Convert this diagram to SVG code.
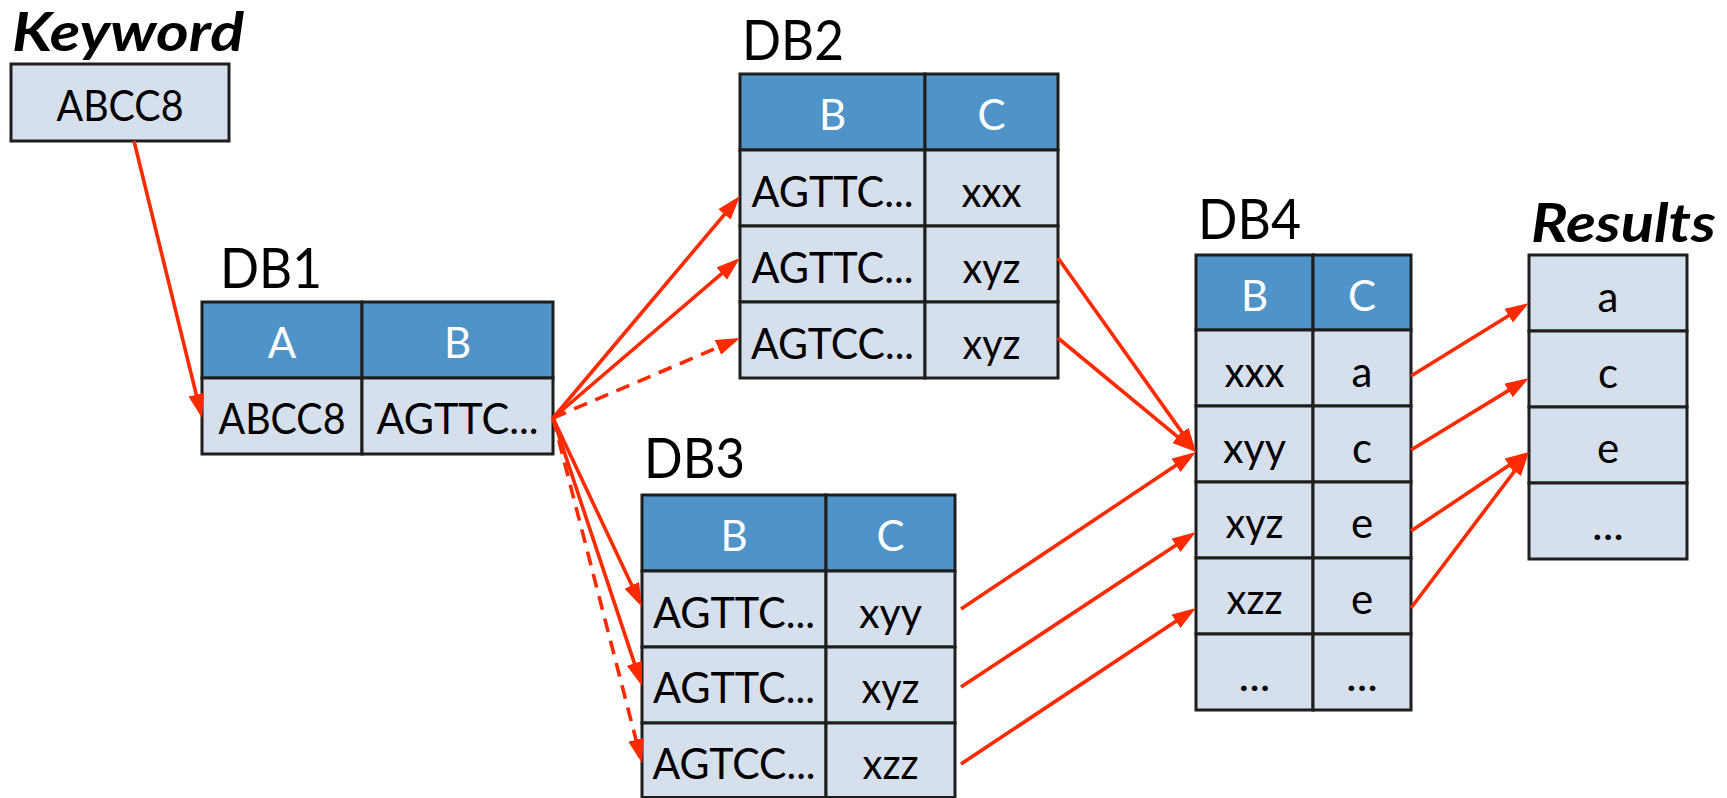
<svg xmlns="http://www.w3.org/2000/svg" width="1727" height="798" viewBox="0 0 1727 798">
  <style>
    .cell { fill: #D6DFEC; stroke: #1E1E1E; stroke-width: 3; }
    .head { fill: #4F94C9; stroke: #1E1E1E; stroke-width: 3; }
    text { font-family: Lato, "Open Sans", "Liberation Sans", sans-serif; }
    .t { font-size: 42px; text-anchor: middle; fill: #000; }
    .h { font-size: 42px; text-anchor: middle; fill: #FFFFFF; }
    .lbl { font-size: 56px; fill: #000; }
    .title { font-size: 53px; font-weight: bold; font-style: italic; fill: #000; }
    .conn { stroke: #FF2A00; stroke-width: 3.6; fill: none; marker-end: url(#ah); }
    .dash { stroke-dasharray: 14 9; }
  </style>
  <defs>
    <marker id="ah" markerUnits="userSpaceOnUse" markerWidth="26" markerHeight="18" refX="18" refY="8" orient="auto">
      <path d="M0,0 L24,8 L0,16 z" fill="#FF2A00"/>
    </marker>
  </defs>

  <rect width="1727" height="798" fill="#FFFFFF"/>

  <!-- Keyword input -->
  <g id="keyword">
    <text class="title" x="12" y="51" textLength="232" lengthAdjust="spacingAndGlyphs">Keyword</text>
    <rect class="cell" x="11" y="64" width="218" height="77"/>
    <text class="t" x="120" y="121" textLength="127" lengthAdjust="spacingAndGlyphs">ABCC8</text>
  </g>

  <!-- DB1 -->
  <g id="db1">
    <text class="lbl" x="220" y="288" textLength="102" lengthAdjust="spacingAndGlyphs">DB1</text>
    <rect class="head" x="202" y="302" width="160" height="76"/>
    <rect class="head" x="362" y="302" width="191" height="76"/>
    <rect class="cell" x="202" y="378" width="160" height="76"/>
    <rect class="cell" x="362" y="378" width="191" height="76"/>
    <text class="h" x="282" y="358">A</text>
    <text class="h" x="457.5" y="358">B</text>
    <text class="t" x="282" y="434" textLength="127" lengthAdjust="spacingAndGlyphs">ABCC8</text>
    <text class="t" x="457.5" y="434" textLength="162" lengthAdjust="spacingAndGlyphs">AGTTC...</text>
  </g>

  <!-- DB2 -->
  <g id="db2">
    <text class="lbl" x="742" y="60" textLength="102" lengthAdjust="spacingAndGlyphs">DB2</text>
    <rect class="head" x="740" y="74" width="185" height="76"/>
    <rect class="head" x="925" y="74" width="133" height="76"/>
    <rect class="cell" x="740" y="150" width="185" height="76"/>
    <rect class="cell" x="925" y="150" width="133" height="76"/>
    <rect class="cell" x="740" y="226" width="185" height="76"/>
    <rect class="cell" x="925" y="226" width="133" height="76"/>
    <rect class="cell" x="740" y="302" width="185" height="76"/>
    <rect class="cell" x="925" y="302" width="133" height="76"/>
    <text class="h" x="832.5" y="130">B</text>
    <text class="h" x="991.5" y="130">C</text>
    <text class="t" x="832.5" y="207" textLength="162" lengthAdjust="spacingAndGlyphs">AGTTC...</text>
    <text class="t" x="991.5" y="207" textLength="60" lengthAdjust="spacingAndGlyphs">xxx</text>
    <text class="t" x="832.5" y="283" textLength="162" lengthAdjust="spacingAndGlyphs">AGTTC...</text>
    <text class="t" x="991.5" y="283" textLength="58" lengthAdjust="spacingAndGlyphs">xyz</text>
    <text class="t" x="832.5" y="359" textLength="163" lengthAdjust="spacingAndGlyphs">AGTCC...</text>
    <text class="t" x="991.5" y="359" textLength="58" lengthAdjust="spacingAndGlyphs">xyz</text>
  </g>

  <!-- DB3 -->
  <g id="db3">
    <text class="lbl" x="644" y="478" textLength="101" lengthAdjust="spacingAndGlyphs">DB3</text>
    <rect class="head" x="642" y="495" width="184" height="76"/>
    <rect class="head" x="826" y="495" width="129" height="76"/>
    <rect class="cell" x="642" y="571" width="184" height="76"/>
    <rect class="cell" x="826" y="571" width="129" height="76"/>
    <rect class="cell" x="642" y="647" width="184" height="76"/>
    <rect class="cell" x="826" y="647" width="129" height="76"/>
    <rect class="cell" x="642" y="723" width="184" height="74.5"/>
    <rect class="cell" x="826" y="723" width="129" height="74.5"/>
    <text class="h" x="734" y="551">B</text>
    <text class="h" x="890.5" y="551">C</text>
    <text class="t" x="734" y="628" textLength="162" lengthAdjust="spacingAndGlyphs">AGTTC...</text>
    <text class="t" x="890.5" y="628" textLength="63" lengthAdjust="spacingAndGlyphs">xyy</text>
    <text class="t" x="734" y="703" textLength="162" lengthAdjust="spacingAndGlyphs">AGTTC...</text>
    <text class="t" x="890.5" y="703" textLength="58" lengthAdjust="spacingAndGlyphs">xyz</text>
    <text class="t" x="734" y="779" textLength="163" lengthAdjust="spacingAndGlyphs">AGTCC...</text>
    <text class="t" x="890.5" y="779" textLength="56" lengthAdjust="spacingAndGlyphs">xzz</text>
  </g>

  <!-- DB4 -->
  <g id="db4">
    <text class="lbl" x="1198" y="239" textLength="103" lengthAdjust="spacingAndGlyphs">DB4</text>
    <rect class="head" x="1196" y="255" width="117" height="75"/>
    <rect class="head" x="1313" y="255" width="98" height="75"/>
    <rect class="cell" x="1196" y="330" width="117" height="76"/>
    <rect class="cell" x="1313" y="330" width="98" height="76"/>
    <rect class="cell" x="1196" y="406" width="117" height="76"/>
    <rect class="cell" x="1313" y="406" width="98" height="76"/>
    <rect class="cell" x="1196" y="482" width="117" height="76"/>
    <rect class="cell" x="1313" y="482" width="98" height="76"/>
    <rect class="cell" x="1196" y="558" width="117" height="76"/>
    <rect class="cell" x="1313" y="558" width="98" height="76"/>
    <rect class="cell" x="1196" y="634" width="117" height="76"/>
    <rect class="cell" x="1313" y="634" width="98" height="76"/>
    <text class="h" x="1254.5" y="311">B</text>
    <text class="h" x="1362" y="311">C</text>
    <text class="t" x="1254.5" y="387" textLength="60" lengthAdjust="spacingAndGlyphs">xxx</text>
    <text class="t" x="1362" y="387">a</text>
    <text class="t" x="1254.5" y="463" textLength="63" lengthAdjust="spacingAndGlyphs">xyy</text>
    <text class="t" x="1362" y="463">c</text>
    <text class="t" x="1254.5" y="538" textLength="58" lengthAdjust="spacingAndGlyphs">xyz</text>
    <text class="t" x="1362" y="538">e</text>
    <text class="t" x="1254.5" y="614" textLength="56" lengthAdjust="spacingAndGlyphs">xzz</text>
    <text class="t" x="1362" y="614">e</text>
    <text class="t" x="1254.5" y="691" textLength="32" lengthAdjust="spacingAndGlyphs">...</text>
    <text class="t" x="1362" y="691" textLength="32" lengthAdjust="spacingAndGlyphs">...</text>
  </g>

  <!-- Results -->
  <g id="results">
    <text class="title" x="1531" y="242" textLength="185" lengthAdjust="spacingAndGlyphs">Results</text>
    <rect class="cell" x="1529" y="255" width="158" height="76"/>
    <rect class="cell" x="1529" y="331" width="158" height="76"/>
    <rect class="cell" x="1529" y="407" width="158" height="76"/>
    <rect class="cell" x="1529" y="483" width="158" height="76"/>
    <text class="t" x="1608" y="312">a</text>
    <text class="t" x="1608" y="388">c</text>
    <text class="t" x="1608" y="463">e</text>
    <text class="t" x="1608" y="540" textLength="32" lengthAdjust="spacingAndGlyphs">...</text>
  </g>

  <!-- Connectors -->
  <g id="connectors">
    <line class="conn" x1="134" y1="141" x2="200.57" y2="412.17"/>
    <line class="conn" x1="553" y1="418" x2="736.13" y2="200.59"/>
    <line class="conn" x1="553" y1="418" x2="735.44" y2="261.90"/>
    <line class="conn dash" x1="553" y1="418" x2="734.48" y2="340.36"/>
    <line class="conn" x1="553" y1="418" x2="639.44" y2="601.57"/>
    <line class="conn" x1="553" y1="418" x2="640.11" y2="680.31"/>
    <line class="conn dash" x1="553" y1="418" x2="640.50" y2="757.19"/>
    <line class="conn" x1="1058" y1="258" x2="1192.52" y2="447.11"/>
    <line class="conn" x1="1058" y1="338" x2="1191.37" y2="448.18"/>
    <line class="conn" x1="961" y1="609" x2="1191.01" y2="455.33"/>
    <line class="conn" x1="961" y1="687" x2="1190.99" y2="535.30"/>
    <line class="conn" x1="961" y1="764" x2="1191.00" y2="611.32"/>
    <line class="conn" x1="1411" y1="376" x2="1523.90" y2="306.16"/>
    <line class="conn" x1="1411" y1="450" x2="1523.88" y2="381.13"/>
    <line class="conn" x1="1411" y1="531" x2="1524.01" y2="455.34"/>
    <line class="conn" x1="1411" y1="608" x2="1525.38" y2="456.79"/>
  </g>
</svg>
